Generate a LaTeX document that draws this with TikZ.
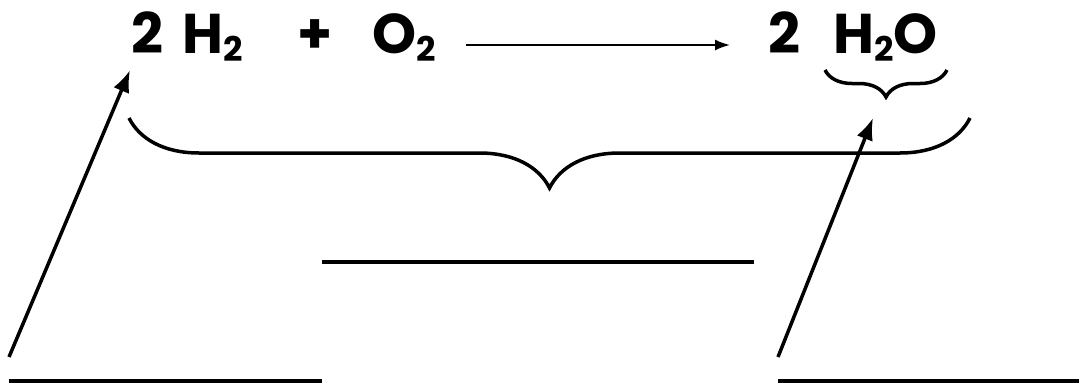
\documentclass[tikz,border=0pt]{standalone}
\usepackage{fontspec}
\setmainfont{Poppins}
\usetikzlibrary{arrows.meta,decorations.pathreplacing}

\newcommand{\ind}[1]{\raisebox{-8pt}{\fontsize{34}{34}\selectfont #1}}

\begin{document}
\begin{tikzpicture}[x=1pt,y=-1pt,
        chem/.style={anchor=base west,inner sep=0pt,font=\fontsize{56}{56}\selectfont\bfseries},
        blank/.style={line width=4pt},
        pointer/.style={line width=3.5pt,-{Latex[length=22pt,width=17pt]}},
        curly/.style={line width=3.5pt,decorate,decoration={brace,mirror,amplitude=#1}}]
        \useasboundingbox (0,0) rectangle (1079,383);

        % Gleichung
        \node[chem] (n1) at (131,53) {2};
        \node[chem] (h2) at (182,53) {H\ind{2}};
        \node[chem] (plus) at (297,53) {+};
        \node[chem] (o2) at (372,53) {O\ind{2}};
        \node[chem] (n2) at (768,53) {2};
        \node[chem] (h2o) at (833,53) {H\ind{2}O};

        \coordinate (R1) at (466,45);
        \coordinate (R2) at (730,45);
        \draw[line width=2pt,-{Latex[length=15pt,width=11pt]}] (R1) -- (R2);

        % Klammern
        \draw[curly=70pt] (129,118) -- (970,118);
        \draw[curly=27pt] (825,70) -- (947,70);

        % Linien zum Ausfuellen
        \coordinate (A) at (9,381);
        \coordinate (B) at (322,381);
        \coordinate (C) at (322,262);
        \coordinate (D) at (754,262);
        \coordinate (E) at (778,381);
        \coordinate (F) at (1079,381);
        \draw[blank] (A) -- (B);
        \draw[blank] (C) -- (D);
        \draw[blank] (E) -- (F);

        % Pfeile
        \coordinate (P) at (9,357);
        \coordinate (Q) at (778,357);
        \draw[pointer] (P) -- ([shift={(-1,17)}]n1.south west);
        \draw[pointer] (Q) -- (873,118);
    \end{tikzpicture}
\end{document}
